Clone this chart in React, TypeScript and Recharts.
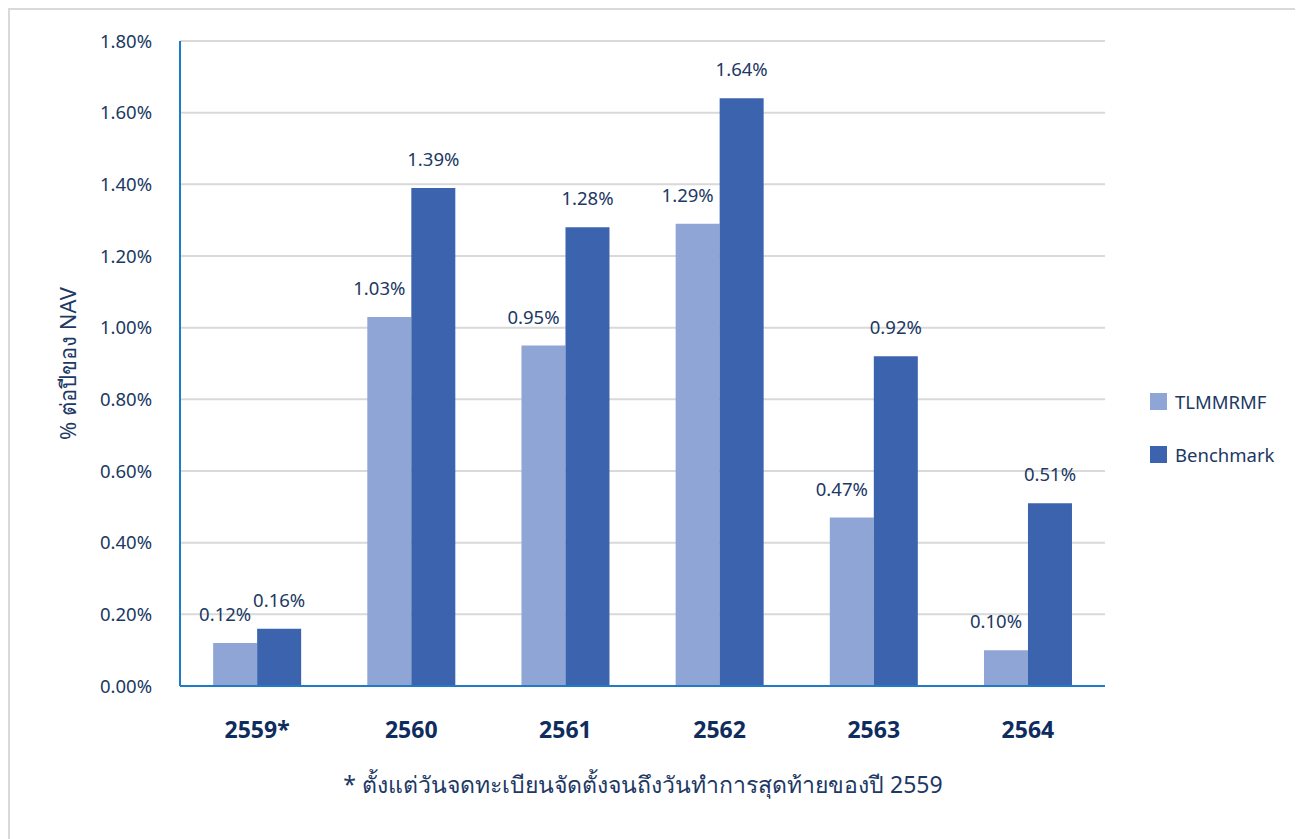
import React from "react";
import {
  BarChart,
  Bar,
  XAxis,
  YAxis,
  CartesianGrid,
  LabelList,
} from "recharts";

const years = ["2559*", "2560", "2561", "2562", "2563", "2564"];
const fundValues = [0.12, 1.03, 0.95, 1.29, 0.47, 0.1];
const benchmarkValues = [0.16, 1.39, 1.28, 1.64, 0.92, 0.51];
const yTicks = [0, 0.2, 0.4, 0.6, 0.8, 1.0, 1.2, 1.4, 1.6, 1.8];

const FONT = "Tahoma, 'Noto Sans', 'DejaVu Sans', sans-serif";
const NAVY = "#203864";
const FUND_COLOR = "#8FA5D6";
const BENCH_COLOR = "#3C63AE";
const AXIS_COLOR = "#1F7BC8";

const data = years.map((year, i) => ({
  year,
  fund: fundValues[i],
  benchmark: benchmarkValues[i],
}));

const pct = (v: number) => `${v.toFixed(2)}%`;

function LegendBox() {
  const items = [
    { name: "TLMMRMF", color: FUND_COLOR },
    { name: "Benchmark", color: BENCH_COLOR },
  ];
  return (
    <div style={{ position: "absolute", left: 1140, top: 381, fontFamily: FONT }}>
      {items.map((it, i) => (
        <div
          key={it.name}
          style={{
            display: "flex",
            alignItems: "center",
            marginBottom: i === 0 ? 33 : 0,
            height: 20,
          }}
        >
          <span
            style={{
              display: "inline-block",
              width: 17,
              height: 17,
              background: it.color,
              marginRight: 8,
            }}
          />
          <span style={{ fontSize: 18.5, color: NAVY }}>{it.name}</span>
        </div>
      ))}
    </div>
  );
}

export default function App() {
  return (
    <div
      style={{
        position: "relative",
        width: 1287,
        height: 840,
        border: "2px solid #D9D9D9",
        borderBottom: "none",
        background: "#fff",
        fontFamily: FONT,
      }}
    >
      <BarChart
        width={1287}
        height={830}
        data={data}
        margin={{ top: 31, right: 192, bottom: 114, left: 0 }}
        barCategoryGap="21.5%"
        barGap={0}
      >
        <CartesianGrid vertical={false} stroke="#D9D9D9" strokeWidth={2} />
        <XAxis
          dataKey="year"
          height={40}
          tickLine={false}
          tickSize={0}
          tickMargin={36}
          axisLine={{ stroke: AXIS_COLOR, strokeWidth: 2 }}
          tick={{ fill: "#0F2C5E", fontSize: 23, fontWeight: 700, fontFamily: FONT }}
        />
        <YAxis
          width={170}
          domain={[0, 1.8]}
          ticks={yTicks}
          tickFormatter={pct}
          interval={0}
          tickLine={false}
          tickSize={0}
          tickMargin={28}
          axisLine={{ stroke: AXIS_COLOR, strokeWidth: 2 }}
          tick={{ fill: NAVY, fontSize: 18.5, fontFamily: FONT }}
          label={(props: any) => {
            const vb = props.viewBox || { x: 0, y: 31, width: 170, height: 645 };
            const cx = vb.x + 57;
            const cy = vb.y + vb.height / 2;
            return (
              <text
                x={cx}
                y={cy}
                transform={`rotate(-90 ${cx} ${cy})`}
                textAnchor="middle"
                dominantBaseline="central"
                fill={NAVY}
                fontSize={22}
                fontFamily={FONT}
              >
                % ต่อปีของ NAV
              </text>
            );
          }}
        />
        <Bar dataKey="fund" name="TLMMRMF" fill={FUND_COLOR} isAnimationActive={false}>
          <LabelList
            dataKey="fund"
            position="top"
            offset={22}
            dx={-10}
            formatter={(v: any) => pct(Number(v))}
            style={{ fill: NAVY, fontSize: 18.5, fontFamily: FONT }}
          />
        </Bar>
        <Bar dataKey="benchmark" name="Benchmark" fill={BENCH_COLOR} isAnimationActive={false}>
          <LabelList
            dataKey="benchmark"
            position="top"
            offset={22}
            formatter={(v: any) => pct(Number(v))}
            style={{ fill: NAVY, fontSize: 18.5, fontFamily: FONT }}
          />
        </Bar>
      </BarChart>
      <LegendBox />
      <div
        style={{
          position: "absolute",
          left: 0,
          width: 1266,
          top: 757,
          textAlign: "center",
          fontSize: 23,
          color: NAVY,
        }}
      >
        * ตั้งแต่วันจดทะเบียนจัดตั้งจนถึงวันทำการสุดท้ายของปี 2559
      </div>
    </div>
  );
}
